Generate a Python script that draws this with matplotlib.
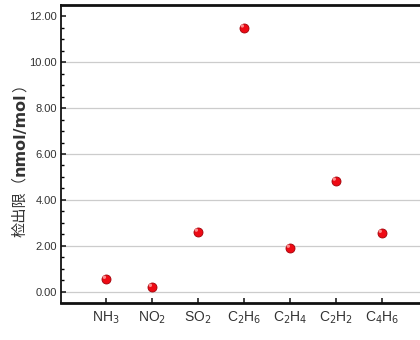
import matplotlib
matplotlib.use("Agg")
import matplotlib.pyplot as plt
from matplotlib import transforms
from matplotlib.ticker import MultipleLocator
from matplotlib import font_manager

gases = ["NH$_3$", "NO$_2$", "SO$_2$", "C$_2$H$_6$", "C$_2$H$_4$", "C$_2$H$_2$", "C$_4$H$_6$"]
lod = [0.55, 0.2, 2.6, 11.48, 1.9, 4.82, 2.55]
yticks = [0, 2, 4, 6, 8, 10, 12]
ytick_labels = ["0.00", "2.00", "4.00", "6.00", "8.00", "10.00", "12.00"]

names = {f.name for f in font_manager.fontManager.ttflist}
tick_font = "Liberation Sans Narrow" if "Liberation Sans Narrow" in names else "Liberation Sans"

fig = plt.figure(figsize=(4.2, 3.4), dpi=100)
ax = fig.add_axes([61/420, 1-303/340, 1-61/420+0.01, (303-5)/340])

x = list(range(len(gases)))
ax.scatter(x, lod, s=42, color="#ee0a14", edgecolor="#a00008", linewidth=0.6, zorder=3)
hl = transforms.offset_copy(ax.transData, fig=fig, x=-1.2, y=1.5, units="points")
ax.scatter(x, lod, s=6, color="#ff9a9a", edgecolor="none", transform=hl, zorder=4, alpha=0.9)

ax.set_xlim(-0.98, 6.92)
ax.set_ylim(-0.48, 12.48)
ax.set_xticks(x)
ax.set_xticklabels(gases, fontsize=10, family=tick_font, color="#333333")
ax.set_yticks(yticks)
ax.set_yticklabels(ytick_labels, fontsize=8, family=tick_font, color="#333333")
ax.yaxis.set_minor_locator(MultipleLocator(0.5))
ax.tick_params(axis="both", direction="in", length=3.5, width=1.2, color="#222222")
ax.tick_params(axis="y", which="minor", direction="in", length=2, width=1.0)
ax.tick_params(axis="x", pad=5)
ax.tick_params(axis="y", pad=3)

for v in yticks[:-1]:
    ax.axhline(v, color="#cccccc", linewidth=0.9, zorder=0)

ax.spines["top"].set_linewidth(2.0)
ax.spines["bottom"].set_linewidth(2.0)
ax.spines["left"].set_linewidth(1.3)
ax.spines["right"].set_visible(False)
for s in ax.spines.values():
    s.set_color("#111111")

cjk = ["Noto Sans CJK SC", "DejaVu Sans"]
t1 = fig.text(20/420, 1-237/340, "检出限（", rotation=90, ha="center", va="bottom",
              fontsize=11, family=cjk, color="#333333", weight="light")
t2 = fig.text(0, 0, "nmol/mol", rotation=90, ha="center", va="bottom", fontsize=11.5,
              family="DejaVu Sans", weight="bold", color="#333333")
fig.canvas.draw()
r = fig.canvas.get_renderer()
bb = t1.get_window_extent(r)
inv = fig.transFigure.inverted()
x0, y0 = inv.transform((bb.x0 + bb.width/2, bb.y1))
t2.set_position((x0, y0))
bb2 = t2.get_window_extent(r)
x1, y1 = inv.transform((bb2.x0 + bb2.width/2, bb2.y1))
fig.text(x1, y1, "）", rotation=90, ha="center", va="bottom", fontsize=11,
         family=cjk, color="#333333", weight="light")

fig.savefig("out.png", dpi=100)
